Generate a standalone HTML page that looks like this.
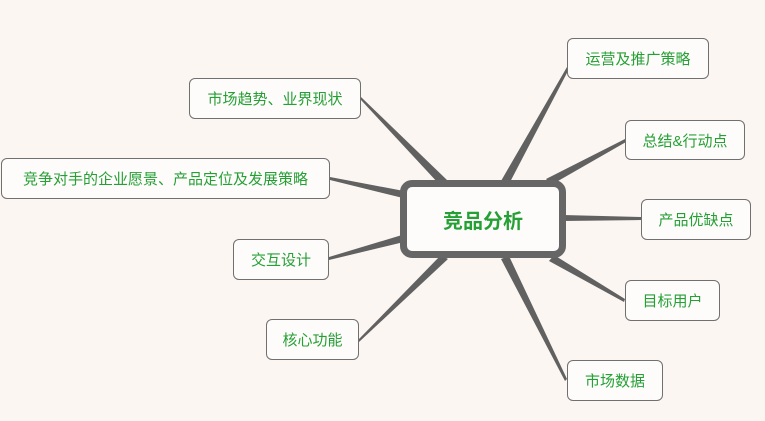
<!DOCTYPE html>
<html><head><meta charset="utf-8"><style>
html,body{margin:0;padding:0}
body{width:765px;height:421px;overflow:hidden;background:#fcf6f2;position:relative;font-family:"Liberation Sans","Noto Sans CJK SC",sans-serif}
.n{position:absolute;box-sizing:border-box;border:1.3px solid #707070;border-radius:6px;background:#fefcfb;color:#25a035;font-size:15px;display:flex;align-items:center;justify-content:center;white-space:nowrap}
.c{position:absolute;left:400px;top:180px;width:166px;height:78px;box-sizing:border-box;border:7px solid #666;border-radius:12px;background:#fefcfb;color:#25a035;font-size:20px;font-weight:bold;display:flex;align-items:center;justify-content:center}
svg{position:absolute;left:0;top:0}
</style></head><body>
<svg width="765" height="421">
<g fill="#616161">
<polygon points="361,97 361,100 439,184 447,180"/>
<polygon points="330,177 330,180 403,198 404,191"/>
<polygon points="329,257 329,260 404,242 402,235"/>
<polygon points="359,339 359,342 448,259 441,255"/>
<polygon points="567,67 569,69 509,184 501,181"/>
<polygon points="625,139 626,142 551,185 546,179"/>
<polygon points="641,217 641,220 563,221 563,215"/>
<polygon points="625,299 624,302 549,261 554,255"/>
<polygon points="567,379 565,381 501,259 509,256"/>
</g>
</svg>
<div class="c">竞品分析</div>
<div class="n" style="left:189px;top:78px;width:172px;height:41px">市场趋势、业界现状</div>
<div class="n" style="left:1px;top:158px;width:329px;height:41px">竞争对手的企业愿景、产品定位及发展策略</div>
<div class="n" style="left:233px;top:239px;width:96px;height:41px">交互设计</div>
<div class="n" style="left:266px;top:319px;width:93px;height:41px">核心功能</div>
<div class="n" style="left:567px;top:38px;width:142px;height:41px">运营及推广策略</div>
<div class="n" style="left:625px;top:120px;width:120px;height:40px">总结&amp;行动点</div>
<div class="n" style="left:641px;top:199px;width:110px;height:41px">产品优缺点</div>
<div class="n" style="left:625px;top:280px;width:95px;height:41px">目标用户</div>
<div class="n" style="left:567px;top:360px;width:96px;height:41px">市场数据</div>
</body></html>
